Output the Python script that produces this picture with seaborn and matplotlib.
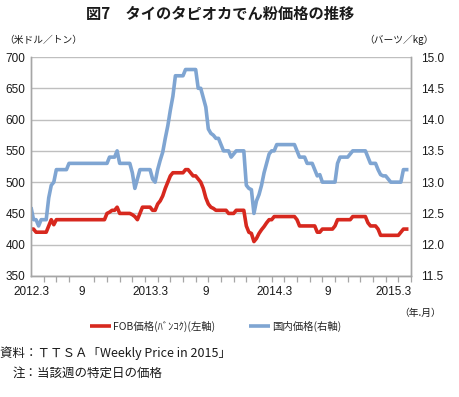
import numpy as np
import pandas as pd
import matplotlib
matplotlib.use("Agg")
import matplotlib.pyplot as plt
import seaborn as sns
from matplotlib.ticker import MultipleLocator, FormatStrFormatter

# ---- data (weekly, Mar 2012 - Mar 2015) ----
fob_usd_t = (
    [425, 425, 420, 420, 420, 420, 420, 430, 440, 432, 440]
    + [440] * 19
    + [450, 452, 455, 455, 460, 450, 450, 450, 450, 450, 448, 445, 440, 450,
       460, 460, 460, 460, 455, 455, 465, 470, 478, 490, 500, 510, 515, 515,
       515, 515, 515, 520, 520, 515, 510, 510, 505, 500, 490, 475, 465, 460,
       458, 455, 455, 455, 455, 455, 450, 450, 450, 455, 455, 455, 455, 430,
       420, 418, 405, 410, 418, 424, 429, 435, 440, 440, 445]
    + [445] * 8
    + [440, 430] + [430] * 6
    + [420, 420, 425] + [425] * 4
    + [430, 440] + [440] * 5
    + [445] + [445] * 5
    + [435, 430, 430, 430, 425, 415] + [415] * 7
    + [420, 425, 425, 425]
)

domestic_baht_kg = (
    [12.6, 12.4, 12.4, 12.3, 12.4, 12.4, 12.4, 12.75, 12.95, 13.0, 13.2]
    + [13.2] * 4
    + [13.3] + [13.3] * 15
    + [13.4, 13.4, 13.4, 13.5, 13.3] + [13.3] * 4
    + [13.15, 12.9, 13.05, 13.2] + [13.2] * 4
    + [13.05, 13.0, 13.2, 13.35, 13.48, 13.7, 13.9, 14.15, 14.37, 14.7, 14.7,
       14.7, 14.7, 14.8] + [14.8] * 4
    + [14.5, 14.5, 14.35, 14.2, 13.85, 13.78, 13.75, 13.7, 13.7, 13.6, 13.5,
       13.5, 13.5, 13.4, 13.45, 13.5] + [13.5] * 3
    + [12.95, 12.9, 12.88, 12.5, 12.7, 12.8, 12.95, 13.15, 13.3, 13.45, 13.5,
       13.5, 13.6] + [13.6] * 7
    + [13.5, 13.4, 13.4, 13.4, 13.3, 13.3, 13.3, 13.2, 13.1, 13.12, 13.0]
    + [13.0] * 5
    + [13.3, 13.4] + [13.4] * 3
    + [13.45, 13.5] + [13.5] * 5
    + [13.4, 13.3, 13.3, 13.3, 13.2, 13.12, 13.1, 13.1, 13.05, 13.0]
    + [13.0] * 4
    + [13.2, 13.2, 13.2]
)

x_tick_labels = ["2012.3", "9", "2013.3", "9", "2014.3", "9", "2015.3"]
x_tick_weeks = [0, 20, 47, 69, 96, 117, 143]
left_ticks = [350, 400, 450, 500, 550, 600, 650, 700]
right_ticks = [11.5, 12.0, 12.5, 13.0, 13.5, 14.0, 14.5, 15.0]

title = "図7　タイのタピオカでん粉価格の推移"
left_unit = "（米ドル／トン）"
right_unit = "（バーツ／kg）"
x_unit = "（年.月）"
fob_label = "FOB価格(ﾊﾞﾝｺｸ)(左軸)"
dom_label = "国内価格(右軸)"
source_text = "資料：ＴＴＳＡ「Weekly Price in 2015」"
note_text = "注：当該週の特定日の価格"

n = len(fob_usd_t)
df = pd.DataFrame({
    "week": np.arange(n),
    "fob": fob_usd_t,
    "dom": domestic_baht_kg[:n],
})

# ---- style ----
sns.set_theme(style="white")
plt.rcParams["font.family"] = ["Noto Sans CJK JP", "DejaVu Sans"]

RED = "#D7281E"
BLUE = "#7FA5D2"
GRID = "#BFBFBF"
SPINE = "#A6A6A6"
TXT = "#1A1A1A"
num_font = ["Liberation Sans", "DejaVu Sans"]

fig = plt.figure(figsize=(4.59, 3.97), dpi=100)
ax = fig.add_axes([31 / 459, 1 - 276 / 397, (411 - 31) / 459, (276 - 57) / 397])
ax2 = ax.twinx()

sns.lineplot(data=df, x="week", y="fob", ax=ax, color=RED, linewidth=2.6,
             label=fob_label, legend=False, solid_capstyle="butt")
sns.lineplot(data=df, x="week", y="dom", ax=ax2, color=BLUE, linewidth=2.6,
             label=dom_label, legend=False, solid_capstyle="butt")

ax.set_xlim(0, n)
ax.set_ylim(350, 700)
ax2.set_ylim(11.5, 15.0)
ax.set_yticks(left_ticks)
ax2.set_yticks(right_ticks)
ax2.yaxis.set_major_formatter(FormatStrFormatter("%.1f"))

ax.grid(axis="y", color=GRID, linewidth=1.0)
ax.grid(axis="x", visible=False)
ax2.grid(False)
ax.set_axisbelow(True)

for a in (ax, ax2):
    for s in a.spines.values():
        s.set_color(SPINE)
        s.set_linewidth(1.0)
    a.spines["top"].set_visible(False)
    a.set_xlabel("")
    a.set_ylabel("")

ax.set_xticks(x_tick_weeks)
ax.set_xticklabels(x_tick_labels)
ax.xaxis.set_minor_locator(MultipleLocator(5))
ax.tick_params(axis="x", which="major", length=0, pad=7, labelsize=8.5,
               colors=TXT)
ax.tick_params(axis="x", which="minor", length=4, width=0.9, color=SPINE,
               direction="out", bottom=True)
ax.tick_params(axis="y", length=0, pad=4, labelsize=8.5, colors=TXT)
ax2.tick_params(axis="y", length=0, pad=7, labelsize=8.5, colors=TXT)
for lab in ax.get_xticklabels() + ax.get_yticklabels() + ax2.get_yticklabels():
    lab.set_family(num_font)

# ---- texts ----
fig.text(0.48, 1 - 14 / 397, title, ha="center", va="center",
         fontsize=11, fontweight="bold", color=TXT)
fig.text(4 / 459, 1 - 40 / 397, left_unit, ha="left", va="center",
         fontsize=7, color=TXT)
fig.text(434 / 459, 1 - 40 / 397, right_unit, ha="right", va="center",
         fontsize=7, color=TXT)
fig.text(441 / 459, 1 - 313 / 397, x_unit, ha="right", va="center",
         fontsize=7, color=TXT)

h1, l1 = ax.get_legend_handles_labels()
h2, l2 = ax2.get_legend_handles_labels()
fig.legend(h1 + h2, l1 + l2, loc="center", bbox_to_anchor=(0.47, 1 - 326 / 397),
           ncol=2, frameon=False, fontsize=7.5, handlelength=2.0,
           handletextpad=0.2, columnspacing=3.2)

fig.text(0.0, 1 - 353 / 397, source_text, ha="left", va="center",
         fontsize=9, color=TXT)
fig.text(13 / 459, 1 - 373 / 397, note_text, ha="left", va="center",
         fontsize=9, color=TXT)

fig.savefig("out.png", dpi=100)
